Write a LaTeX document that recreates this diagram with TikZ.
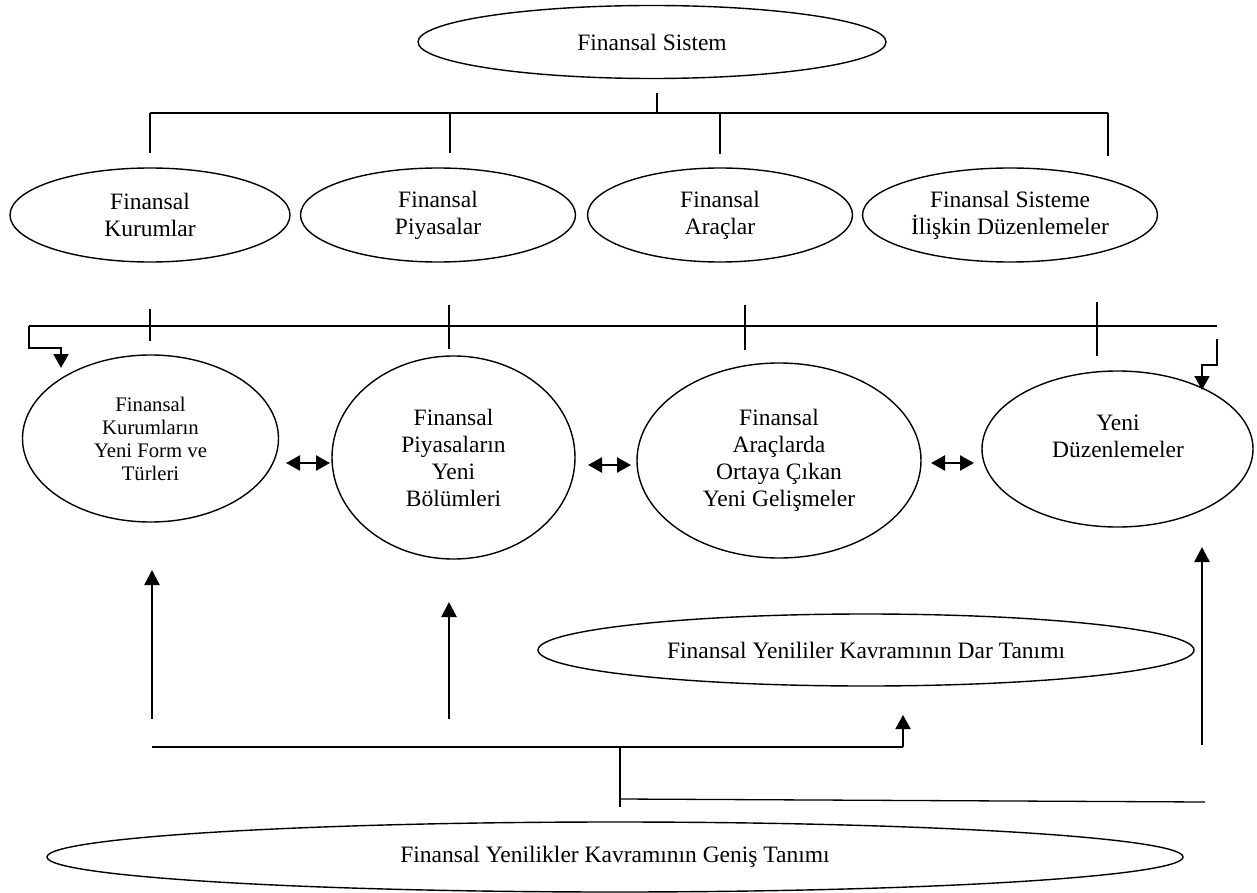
\documentclass[tikz,border=0pt]{standalone}
\usepackage{fontspec}
\setmainfont{Liberation Serif}
\usetikzlibrary{shapes.geometric,arrows.meta}
\newcommand\mainfs{\fontsize{23.5}{27}\selectfont}
\newcommand\smallfs{\fontsize{20.7}{23}\selectfont}
\begin{document}
\begin{tikzpicture}[x=1pt,y=-1pt,
  ell/.style={ellipse,draw,line width=1.4pt,inner sep=0pt,align=center,font=\mainfs},
  ln/.style={line width=1.3pt},
  uparr/.style={line width=2.4pt,-{Triangle[width=15pt,length=15pt]}},
  bentarr/.style={line width=1.9pt,-{Triangle[width=15pt,length=14pt]}},
  dblarr/.style={line width=2.4pt,{Triangle[width=15pt,length=14pt]}-{Triangle[width=15pt,length=14pt]}}]
\useasboundingbox (0,0) rectangle (1257,893);

% ellipses
\node[ell,minimum width=468pt,minimum height=73pt] (sys) at (652,42) {Finansal Sistem};
\node[ell,minimum width=280pt,minimum height=94pt] (a1) at (150,215) {Finansal\\Kurumlar};
\node[ell,minimum width=275pt,minimum height=94pt] (a2) at (438,215) {Finansal\\Piyasalar};
\node[ell,minimum width=265pt,minimum height=94pt] (a3) at (720,215) {Finansal\\Araçlar};
\node[ell,minimum width=295pt,minimum height=94pt] (a4) at (1010,215) {Finansal Sisteme\\İlişkin Düzenlemeler};

\node[ell,font=\smallfs,minimum width=256pt,minimum height=167pt] (b1) at (150.5,438.5) {Finansal\\Kurumların\\Yeni Form ve\\Türleri};
\node[ell,minimum width=243pt,minimum height=203pt] (b2) at (453.5,457.5) {Finansal\\Piyasaların\\Yeni\\Bölümleri};
\node[ell,minimum width=284pt,minimum height=195pt] (b3) at (779,460.5) {Finansal\\Araçlarda\\Ortaya Çıkan\\Yeni Gelişmeler};
\node[ell,minimum width=271pt,minimum height=156pt] (b4) at (1117.5,449) {};
\node[align=center,font=\mainfs,inner sep=0pt] (b4t) at (1118,436) {Yeni\\Düzenlemeler};

\node[ell,minimum width=656pt,minimum height=72pt] (dar) at (866,650) {Finansal Yenililer Kavramının Dar Tanımı};
\node[ell,minimum width=1136pt,minimum height=70pt] (gen) at (615,857) {Finansal Yenilikler Kavramının Geniş Tanımı};

% top tree
\coordinate (t0) at (657,93);
\coordinate (t1) at (657,113);
\coordinate (tl) at (150,113);
\coordinate (tr) at (1108,113);
\coordinate (d1) at (150,153);
\coordinate (u2) at (450,113);
\coordinate (d2) at (450,153);
\coordinate (u3) at (720,113);
\coordinate (d3) at (720,154);
\coordinate (d4) at (1108,156);
\draw[ln] (t0) -- (t1);
\draw[ln] (tl) -- (tr);
\draw[ln] (tl) -- (d1);
\draw[ln] (u2) -- (d2);
\draw[ln] (u3) -- (d3);
\draw[ln] (tr) -- (d4);

% middle bar
\coordinate (ml) at (29,326);
\coordinate (mr) at (1217,326);
\coordinate (ml1) at (29,348);
\coordinate (ml2) at (61,348);
\coordinate (ml3) at (61,368);
\draw[ln] (ml) -- (mr);
\draw[bentarr] (ml) -- (ml1) -- (ml2) -- (ml3);
\coordinate (k1a) at (150,309); \coordinate (k1b) at (150,341);
\coordinate (k2a) at (449,305); \coordinate (k2b) at (449,349);
\coordinate (k3a) at (745,305); \coordinate (k3b) at (745,350);
\coordinate (k4a) at (1097,302); \coordinate (k4b) at (1097,356);
\draw[ln] (k1a) -- (k1b);
\draw[ln] (k2a) -- (k2b);
\draw[ln] (k3a) -- (k3b);
\draw[ln] (k4a) -- (k4b);
\coordinate (mr1) at (1217,339);
\coordinate (mr2) at (1217,365);
\coordinate (mr3) at (1202,365);
\coordinate (mr4) at (1202,390);
\draw[bentarr] (mr1) -- (mr2) -- (mr3) -- (mr4);

% double arrows
\coordinate (p1a) at (286,463); \coordinate (p1b) at (330,463);
\coordinate (p2a) at (588,465); \coordinate (p2b) at (631,465);
\coordinate (p3a) at (931,463); \coordinate (p3b) at (974,463);
\draw[dblarr] (p1a) -- (p1b);
\draw[dblarr] (p2a) -- (p2b);
\draw[dblarr] (p3a) -- (p3b);

% up arrows
\coordinate (q1a) at (152,719); \coordinate (q1b) at (152,570);
\coordinate (q2a) at (449,719); \coordinate (q2b) at (449,602);
\coordinate (q3a) at (1202,745); \coordinate (q3b) at (1202,547);
\draw[uparr] (q1a) -- (q1b);
\draw[uparr] (q2a) -- (q2b);
\draw[uparr] (q3a) -- (q3b);

% bottom lines
\coordinate (h1) at (152,747);
\coordinate (h2) at (903,747);
\coordinate (h3) at (903,715);
\draw[ln] (h1) -- (h2);
\draw[bentarr] (h2) -- (h3);
\coordinate (v1) at (620,747);
\coordinate (v2) at (620,807);
\coordinate (v3) at (620,799);
\coordinate (v4) at (1205,802);
\draw[ln] (v1) -- (v2);
\draw[ln] (v3) -- (v4);
\end{tikzpicture}
\end{document}
